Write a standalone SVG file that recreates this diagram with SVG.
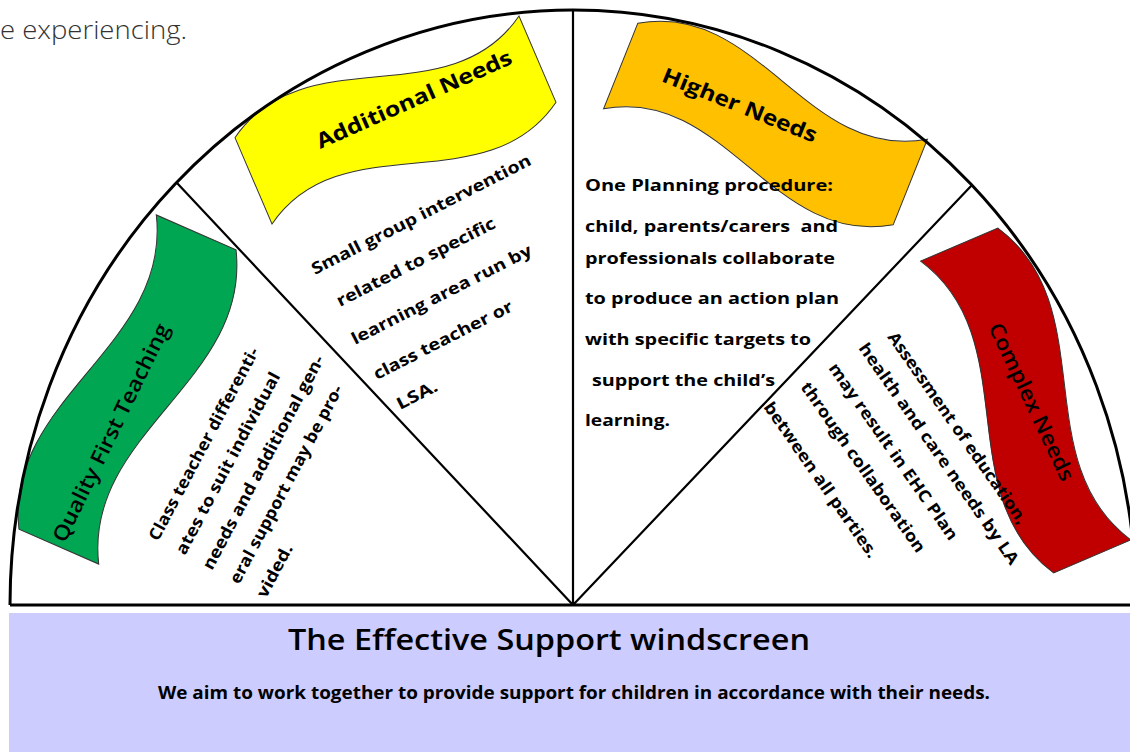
<svg xmlns="http://www.w3.org/2000/svg" width="1130" height="752" viewBox="0 0 1130 752">
<style>
.banner{stroke:#333;stroke-width:1}
.btitle{font-family:"Open Sans",sans-serif;font-size:21px;fill:#000}
.body{font-family:"Open Sans",sans-serif;font-weight:700;font-size:16.5px;fill:#000}
.hn{font-family:"Open Sans",sans-serif;font-weight:700;font-size:16.5px;fill:#000}
.frame{fill:none;stroke:#000}
</style>
<rect width="1130" height="752" fill="#fff"/>
<text x="0" y="39" textLength="187" lengthAdjust="spacingAndGlyphs" font-family="'Open Sans',sans-serif" font-weight="300" font-size="25" fill="#333">e experiencing.</text>

<g id="quality-first-teaching">
<path class="banner" fill="#00A651" transform="translate(127.5,389.5) rotate(-66.4)" d="M-171.5,-43.5 C-57.2,-109.5 57.2,22.5 171.5,-43.5 L171.5,43.5 C57.2,109.5 -57.2,-22.5 -171.5,43.5 Z"/>
<text class="btitle" font-weight="600" text-anchor="middle" textLength="240" lengthAdjust="spacingAndGlyphs" transform="translate(117.5,436) rotate(-64)">Quality First Teaching</text>
<text class="body" textLength="216" lengthAdjust="spacingAndGlyphs" transform="translate(158,542) rotate(-62)">Class teacher differenti-</text>
<text class="body" textLength="204" lengthAdjust="spacingAndGlyphs" transform="translate(185,556) rotate(-62)">ates to suit individual</text>
<text class="body" textLength="240" lengthAdjust="spacingAndGlyphs" transform="translate(212,571) rotate(-62)">needs and additional gen-</text>
<text class="body" textLength="222" lengthAdjust="spacingAndGlyphs" transform="translate(239,585) rotate(-62)">eral support may be pro-</text>
<text class="body" textLength="58" lengthAdjust="spacingAndGlyphs" transform="translate(266,599) rotate(-62)">vided.</text>
</g>

<g id="additional-needs">
<path class="banner" fill="#FFFF00" transform="translate(395.5,120) rotate(-23.2)" d="M-154.5,-47 C-51.5,-113 51.5,19 154.5,-47 L154.5,47 C51.5,113 -51.5,-19 -154.5,47 Z"/>
<text class="btitle" font-weight="700" text-anchor="middle" textLength="212" lengthAdjust="spacingAndGlyphs" transform="translate(417,106) rotate(-24)">Additional Needs</text>
<text class="body" textLength="244" lengthAdjust="spacingAndGlyphs" transform="translate(315,275) rotate(-27)">Small group intervention</text>
<text class="body" textLength="176" lengthAdjust="spacingAndGlyphs" transform="translate(340,307) rotate(-27)">related to specific</text>
<text class="body" textLength="200" lengthAdjust="spacingAndGlyphs" transform="translate(355,345) rotate(-27)">learning area run by</text>
<text class="body" textLength="154" lengthAdjust="spacingAndGlyphs" transform="translate(377,380) rotate(-27)">class teacher or</text>
<text class="body" textLength="44" lengthAdjust="spacingAndGlyphs" transform="translate(400,410) rotate(-27)">LSA.</text>
</g>

<g id="higher-needs">
<path class="banner" fill="#FFC000" transform="translate(765.5,124) rotate(21.8)" d="M-156,-46 C-52,-112 52,20 156,-46 L156,46 C52,112 -52,-20 -156,46 Z"/>
<text class="btitle" font-weight="700" text-anchor="middle" textLength="165" lengthAdjust="spacingAndGlyphs" transform="translate(737,112) rotate(22)">Higher Needs</text>
<text class="hn" x="585" y="191" textLength="248" lengthAdjust="spacingAndGlyphs">One Planning procedure:</text>
<text class="hn" x="585" y="232" textLength="253" lengthAdjust="spacingAndGlyphs" xml:space="preserve">child, parents/carers  and</text>
<text class="hn" x="585" y="264" textLength="250" lengthAdjust="spacingAndGlyphs">professionals collaborate</text>
<text class="hn" x="585" y="304" textLength="254" lengthAdjust="spacingAndGlyphs">to produce an action plan</text>
<text class="hn" x="585" y="345" textLength="226" lengthAdjust="spacingAndGlyphs">with specific targets to</text>
<text class="hn" x="592" y="386" textLength="183" lengthAdjust="spacingAndGlyphs">support the child’s</text>
<text class="hn" x="585" y="426" textLength="85" lengthAdjust="spacingAndGlyphs">learning.</text>
</g>

<g id="complex-needs">
<path class="banner" fill="#C00000" transform="translate(1025.75,400.5) rotate(66.9)" d="M-169.5,-42 C-56.5,-108 56.5,24 169.5,-42 L169.5,42 C56.5,108 -56.5,-24 -169.5,42 Z"/>
<text class="btitle" font-weight="600" text-anchor="middle" textLength="172" lengthAdjust="spacingAndGlyphs" transform="translate(1025,405) rotate(64.6)">Complex Needs</text>
<text class="body" textLength="230" lengthAdjust="spacingAndGlyphs" transform="translate(887,337) rotate(55)">Assessment of education,</text>
<text class="body" textLength="266" lengthAdjust="spacingAndGlyphs" transform="translate(858,348) rotate(55)">health and care needs by LA</text>
<text class="body" textLength="212" lengthAdjust="spacingAndGlyphs" transform="translate(828,368) rotate(55)">may result in EHC Plan</text>
<text class="body" textLength="204" lengthAdjust="spacingAndGlyphs" transform="translate(800,387) rotate(55)">through collaboration</text>
<text class="body" textLength="186" lengthAdjust="spacingAndGlyphs" transform="translate(763,407) rotate(55)">between all parties.</text>
</g>

<g id="connectors">
<path class="frame" stroke-width="3" d="M10,605 A563,595 0 0 1 1136,605"/>
<path class="frame" stroke-width="2.2" d="M573,605 L573,10 M573,605 L177,183 M573,605 L972,185"/>
<path class="frame" stroke-width="3" d="M10,605 L1130,605"/>
</g>

<g id="footer">
<rect x="9" y="613" width="1121" height="139" fill="#CCCCFF"/>
<text x="549" y="650" text-anchor="middle" textLength="522" lengthAdjust="spacingAndGlyphs" font-family="'Open Sans',sans-serif" font-weight="600" font-size="28" fill="#000">The Effective Support windscreen</text>
<text x="574" y="699" text-anchor="middle" textLength="832" lengthAdjust="spacingAndGlyphs" font-family="'Open Sans',sans-serif" font-weight="700" font-size="17" fill="#000">We aim to work together to provide support for children in accordance with their needs.</text>
</g>
</svg>
